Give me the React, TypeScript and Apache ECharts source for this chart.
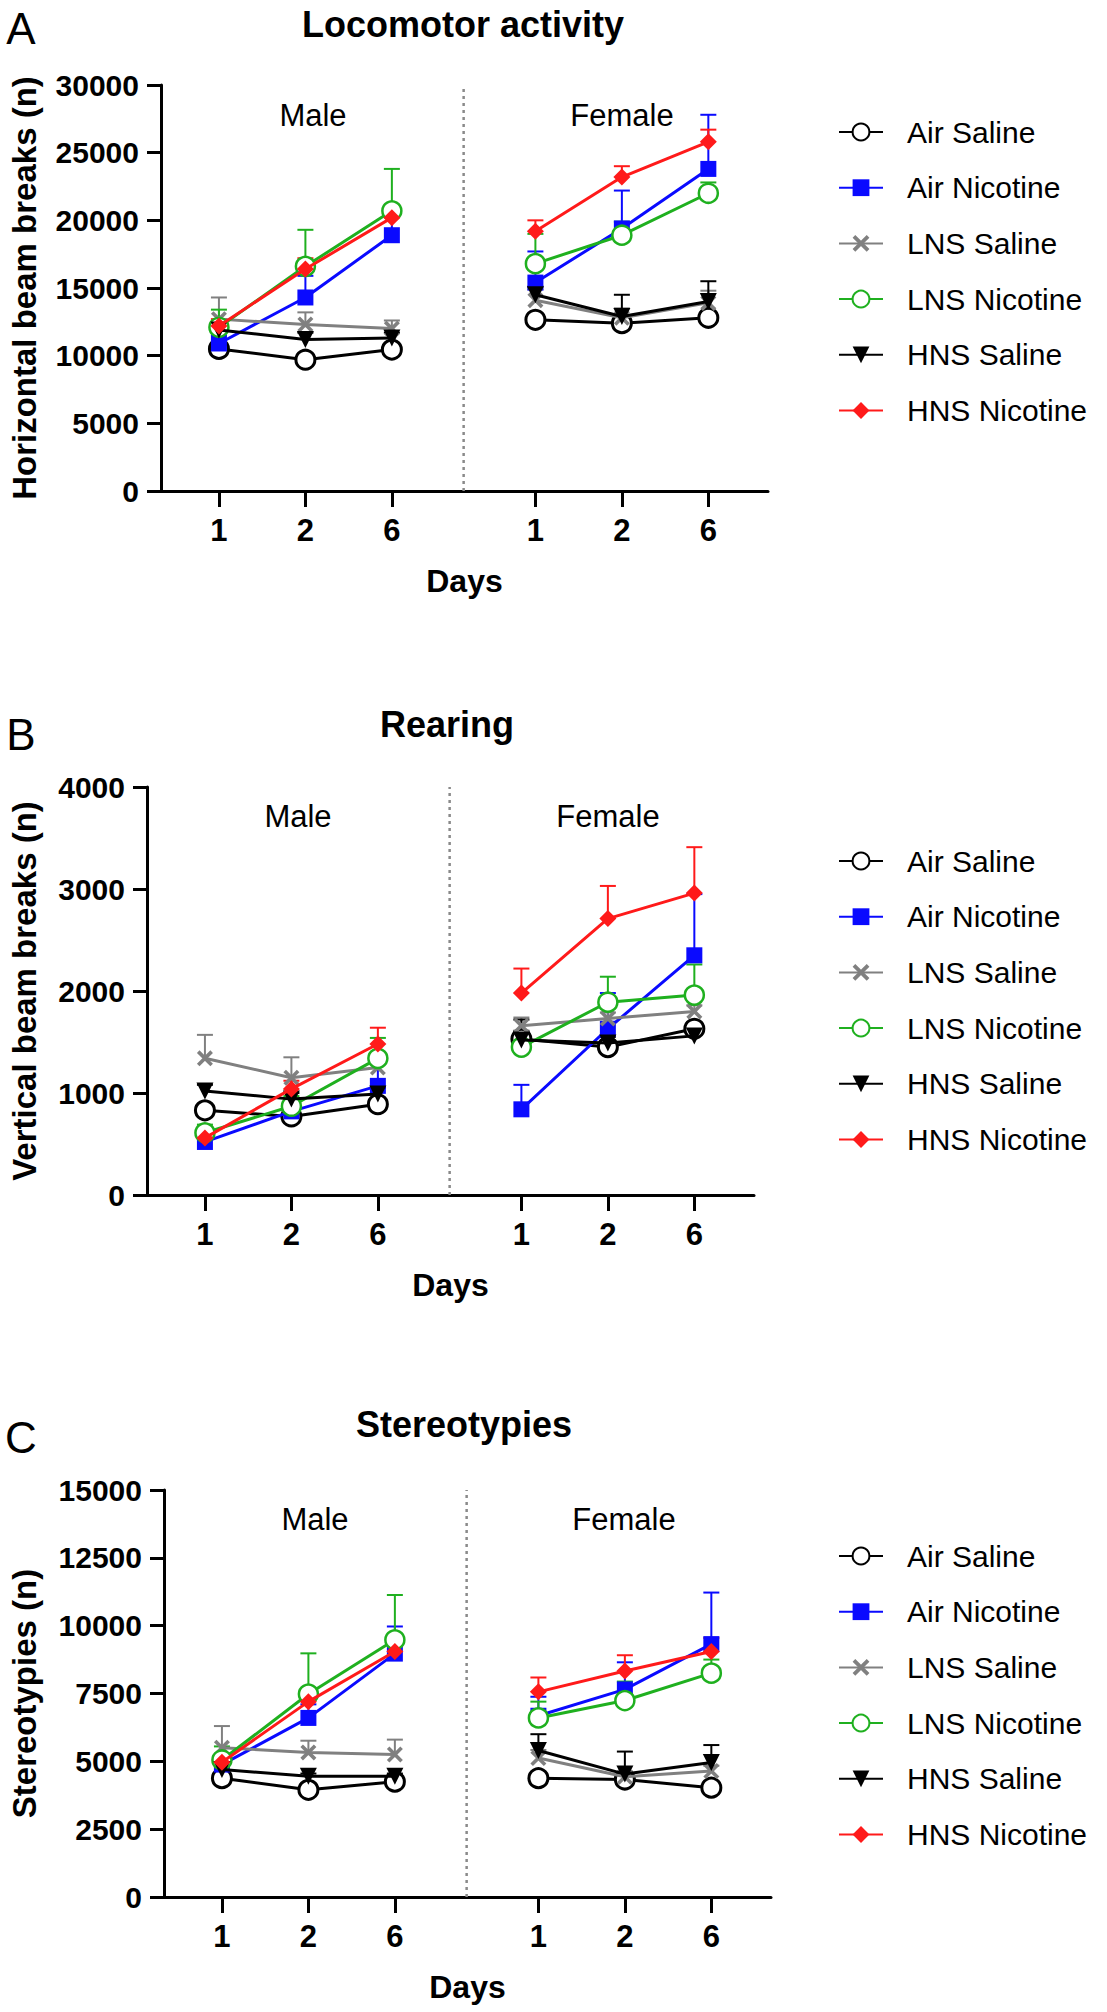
import React, { useEffect, useRef } from 'react';
import * as echarts from 'echarts';

// ---------- data ----------
const groups = ['Air Saline', 'Air Nicotine', 'LNS Saline', 'LNS Nicotine', 'HNS Saline', 'HNS Nicotine'];
const dayLabels = ['1', '2', '6'];
const sexLabels = ['Male', 'Female'];

// Locomotor activity (rows follow `groups`, columns follow `dayLabels`)
const locoMaleMean = [
  [10500, 9700, 10450],
  [10900, 14300, 18900],
  [12700, 12300, 12000],
  [12100, 16600, 20700],
  [11900, 11200, 11300],
  [12200, 16400, 20200],
];
const locoMaleSem = [
  [300, 300, 300],
  [600, 1600, 2000],
  [1600, 900, 600],
  [1300, 2700, 3100],
  [400, 500, 400],
  [500, 800, 700],
];
const locoFemaleMean = [
  [12650, 12400, 12800],
  [15400, 19400, 23800],
  [14100, 12800, 13900],
  [16800, 18900, 22000],
  [14500, 12900, 14000],
  [19200, 23200, 25800],
];
const locoFemaleSem = [
  [300, 300, 300],
  [2300, 2800, 4000],
  [800, 700, 900],
  [2200, 1000, 800],
  [600, 1600, 1500],
  [800, 800, 900],
];

// Rearing
const rearMaleMean = [
  [830, 770, 890],
  [520, 820, 1070],
  [1340, 1150, 1250],
  [610, 870, 1340],
  [1020, 940, 990],
  [560, 1040, 1480],
];
const rearMaleSem = [
  [50, 50, 50],
  [50, 100, 220],
  [230, 200, 100],
  [80, 100, 200],
  [60, 60, 60],
  [80, 80, 160],
];
const rearFemaleMean = [
  [1530, 1450, 1630],
  [840, 1630, 2350],
  [1660, 1730, 1800],
  [1450, 1890, 1960],
  [1520, 1490, 1560],
  [1980, 2710, 2960],
];
const rearFemaleSem = [
  [80, 60, 60],
  [240, 350, 600],
  [80, 60, 60],
  [100, 250, 300],
  [200, 60, 80],
  [240, 320, 450],
];

// Stereotypies
const stereoMaleMean = [
  [4380, 3950, 4250],
  [4880, 6600, 8970],
  [5500, 5330, 5250],
  [5050, 7480, 9480],
  [4700, 4450, 4450],
  [4970, 7200, 9050],
];
const stereoMaleSem = [
  [100, 100, 100],
  [300, 500, 1000],
  [800, 430, 550],
  [500, 1500, 1650],
  [100, 100, 100],
  [300, 400, 400],
];
const stereoFemaleMean = [
  [4380, 4330, 4030],
  [6680, 7650, 9320],
  [5120, 4430, 4640],
  [6600, 7240, 8250],
  [5400, 4530, 4960],
  [7560, 8330, 9050],
];
const stereoFemaleSem = [
  [100, 100, 100],
  [700, 1000, 1900],
  [300, 200, 200],
  [600, 700, 500],
  [600, 830, 640],
  [530, 580, 500],
];

// ---------- styles / layout ----------
const FONT = '"Liberation Sans", Arial, Helvetica, sans-serif';
const groupColors = ['#000000', '#0a0aff', '#808080', '#1fb01f', '#000000', '#ff1a1a'];
const XPATH = 'path://M0,1.6L1.6,0L10,8.4L8.4,10Z M8.4,0L10,1.6L1.6,10L0,8.4Z';
const TRI = 'path://M0,0L10,0L5,9Z';
const groupSymbols = ['circle', 'rect', XPATH, 'circle', TRI, 'diamond'];
const groupSymbolSize = [19, 16, 16, 19, 17, 17];
const groupHollow = [true, false, false, true, false, false];

const maleXPos = [1, 2, 3];
const femaleXPos = [4.66, 5.66, 6.66];
const xTicks = [...maleXPos, ...femaleXPos];
const dividerX = 3.83;
const xMin = 0.33;
const xMax = 7.35;
const gridWidth = 611;

const panels = [
  {
    letter: 'A', title: 'Locomotor activity', yName: 'Horizontal beam breaks (n)',
    yMax: 30000, yInterval: 5000,
    maleMean: locoMaleMean, maleSem: locoMaleSem, femaleMean: locoFemaleMean, femaleSem: locoFemaleSem,
    left: 157, top: 85, bottom: 491, letterY: 28, titleX: 463, titleY: 24,
    sexY: 115, maleLabelX: 313, femaleLabelX: 622, legendTop: 117,
  },
  {
    letter: 'B', title: 'Rearing', yName: 'Vertical beam breaks (n)',
    yMax: 4000, yInterval: 1000,
    maleMean: rearMaleMean, maleSem: rearMaleSem, femaleMean: rearFemaleMean, femaleSem: rearFemaleSem,
    left: 143, top: 787, bottom: 1195, letterY: 734, titleX: 447, titleY: 724,
    sexY: 816, maleLabelX: 298, femaleLabelX: 608, legendTop: 846,
  },
  {
    letter: 'C', title: 'Stereotypies', yName: 'Stereotypies (n)',
    yMax: 15000, yInterval: 2500,
    maleMean: stereoMaleMean, maleSem: stereoMaleSem, femaleMean: stereoFemaleMean, femaleSem: stereoFemaleSem,
    left: 160, top: 1490, bottom: 1897, letterY: 1437, titleX: 464, titleY: 1424,
    sexY: 1519, maleLabelX: 315, femaleLabelX: 624, legendTop: 1541,
  },
];

const W = 1107;
const H = 2012;

function errRender(params: any, api: any) {
  const x = api.value(0);
  const y = api.value(1);
  const e = api.value(2);
  const gi = api.value(3);
  const p0 = api.coord([x, y]);
  const p1 = api.coord([x, y + e]);
  const c = groupColors[gi];
  return {
    type: 'group',
    children: [
      { type: 'line', shape: { x1: p0[0], y1: p0[1], x2: p1[0], y2: p1[1] }, style: { stroke: c, lineWidth: 2 } },
      { type: 'line', shape: { x1: p1[0] - 8, y1: p1[1], x2: p1[0] + 8, y2: p1[1] }, style: { stroke: c, lineWidth: 2 } },
    ],
  };
}

function buildOption() {
  const grid: any[] = [];
  const xAxis: any[] = [];
  const yAxis: any[] = [];
  const series: any[] = [];
  const legend: any[] = [];
  const graphic: any[] = [];

  panels.forEach((p, i) => {
    grid.push({ left: p.left, width: gridWidth, top: p.top, height: p.bottom - p.top });
    xAxis.push({
      type: 'value', gridIndex: i, min: xMin, max: xMax,
      axisLine: { show: true, onZero: false, lineStyle: { color: '#000', width: 3 } },
      axisTick: { show: true, customValues: xTicks, length: 16, lineStyle: { color: '#000', width: 3 } },
      axisLabel: {
        customValues: xTicks, margin: 24, color: '#000', fontSize: 31, fontWeight: 'bold', fontFamily: FONT,
        formatter: (v: number) => {
          const idx = xTicks.findIndex((t) => Math.abs(t - v) < 1e-6);
          return idx >= 0 ? dayLabels[idx % 3] : '';
        },
      },
      splitLine: { show: false },
      name: 'Days', nameLocation: 'middle', nameGap: 74,
      nameTextStyle: { color: '#000', fontSize: 32, fontWeight: 'bold', fontFamily: FONT },
    });
    yAxis.push({
      type: 'value', gridIndex: i, min: 0, max: p.yMax, interval: p.yInterval,
      axisLine: { show: true, lineStyle: { color: '#000', width: 3 } },
      axisTick: { show: true, length: 14, lineStyle: { color: '#000', width: 3 } },
      axisLabel: {
        margin: 22, color: '#000', fontSize: 30, fontWeight: 'bold', fontFamily: FONT,
        formatter: (v: number) => String(v),
      },
      splitLine: { show: false },
      name: p.yName, nameLocation: 'middle', nameRotate: 90, nameGap: p.left - 21 - 16,
      nameTextStyle: { color: '#000', fontSize: 33, fontWeight: 'bold', fontFamily: FONT },
    });

    // divider
    series.push({
      type: 'line', xAxisIndex: i, yAxisIndex: i, silent: true, symbol: 'none',
      data: [[dividerX, 0], [dividerX, p.yMax]],
      lineStyle: { color: '#8a8a8a', width: 2.5, type: [3, 4] }, z: 1,
    });

    // error bars
    const errRows: any[] = [];
    groups.forEach((g, gi) => {
      [0, 1, 2].forEach((k) => {
        errRows.push([maleXPos[k], p.maleMean[gi][k], p.maleSem[gi][k], gi]);
        errRows.push([femaleXPos[k], p.femaleMean[gi][k], p.femaleSem[gi][k], gi]);
      });
    });
    series.push({
      type: 'custom', xAxisIndex: i, yAxisIndex: i, silent: true, clip: false,
      renderItem: errRender, data: errRows, encode: { x: 0, y: 1 }, z: 2,
    });

    // lines
    groups.forEach((g, gi) => {
      const c = groupColors[gi];
      const itemStyle = groupHollow[gi]
        ? { color: '#ffffff', borderColor: c, borderWidth: gi === 0 ? 3 : 2.5, opacity: 1 }
        : { color: c, borderColor: c, borderWidth: 0 };
      [[maleXPos, p.maleMean], [femaleXPos, p.femaleMean]].forEach(([xs, means]: any) => {
        series.push({
          type: 'line', name: g, xAxisIndex: i, yAxisIndex: i,
          data: means[gi].map((v: number, k: number) => [xs[k], v]),
          symbol: groupSymbols[gi], symbolSize: groupSymbolSize[gi], showAllSymbol: true,
          itemStyle, lineStyle: { color: c, width: 3 },
          emphasis: { disabled: true }, z: 3 + gi,
        });
      });
    });

    legend.push({
      data: groups, orient: 'vertical', left: 838, top: p.legendTop, padding: 0,
      itemWidth: 44, itemHeight: 21, itemGap: 25.7, selectedMode: false,
      textStyle: { color: '#000', fontSize: 30, fontFamily: FONT, lineHeight: 30, padding: [0, 0, 0, 19] },
    });

    graphic.push(
      { type: 'text', x: 21, y: p.letterY, style: { text: p.letter, fontSize: 44, fontFamily: FONT, fill: '#000', align: 'center', verticalAlign: 'middle' } },
      { type: 'text', x: p.titleX, y: p.titleY, style: { text: p.title, fontSize: 36, fontWeight: 'bold', fontFamily: FONT, fill: '#000', align: 'center', verticalAlign: 'middle' } },
      { type: 'text', x: p.maleLabelX, y: p.sexY, style: { text: sexLabels[0], fontSize: 31, fontFamily: FONT, fill: '#000', align: 'center', verticalAlign: 'middle' } },
      { type: 'text', x: p.femaleLabelX, y: p.sexY, style: { text: sexLabels[1], fontSize: 31, fontFamily: FONT, fill: '#000', align: 'center', verticalAlign: 'middle' } },
    );
  });

  return {
    animation: false,
    backgroundColor: '#ffffff',
    textStyle: { fontFamily: FONT },
    grid, xAxis, yAxis, series, legend, graphic,
  };
}

export default function App() {
  const ref = useRef<HTMLDivElement>(null);
  useEffect(() => {
    if (!ref.current) return;
    const chart = echarts.init(ref.current, null, { renderer: 'svg' });
    chart.setOption(buildOption() as any);
    return () => chart.dispose();
  }, []);
  return <div ref={ref} style={{ position: 'absolute', left: 0, top: 0, width: W, height: H, background: '#fff' }} />;
}
